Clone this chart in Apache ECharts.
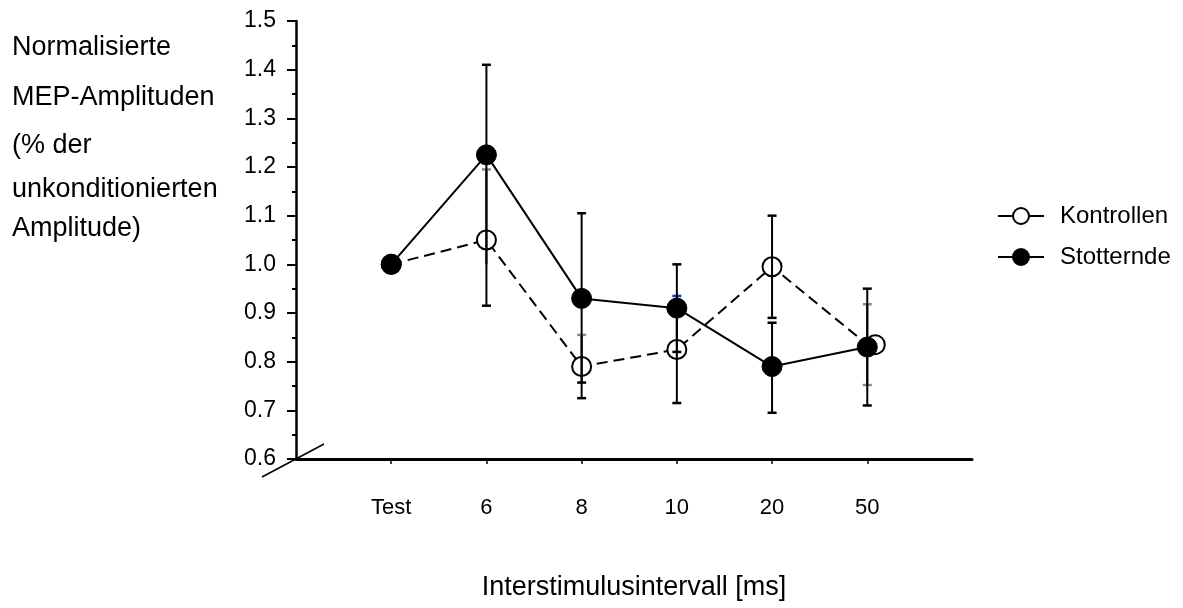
<!DOCTYPE html>
<html>
<head>
<meta charset="utf-8">
<title>Normalisierte MEP-Amplituden</title>
<script src="https://cdn.jsdelivr.net/npm/echarts@6/dist/echarts.min.js"></script>
<style>
  html, body { margin: 0; padding: 0; background: #fff; }
  #chart { width: 1183px; height: 608px; }
</style>
</head>
<body>
<div id="chart"></div>
<script>
// Interstimulus intervals (ms); "Test" is the unconditioned reference stimulus
const categories = ['Test', '6', '8', '10', '20', '50'];

// Mean normalised MEP amplitudes per group
const kontrollen = [1.0, 1.05, 0.79, 0.825, 0.995, 0.835];
const stotternde = [1.0, 1.225, 0.93, 0.91, 0.79, 0.83];

// Error bar ends (lower / upper); no bars at "Test"
const kontrollenLow  = [null, 0.915, 0.725, 0.715, 0.89, 0.752];
const kontrollenHigh = [null, 1.195, 0.855, 0.935, 1.10, 0.918];
const stotterndeLow  = [null, 1.00, 0.757, 0.82, 0.695, 0.71];
const stotterndeHigh = [null, 1.41, 1.105, 1.00, 0.88, 0.95];

// Y axis range and step
const yMin = 0.6, yMax = 1.5, yStep = 0.1;

// Y axis title lines
const yTitleLines = ['Normalisierte', 'MEP-Amplituden', '(% der', 'unkonditionierten', 'Amplitude)'];
const yTitleCentres = [48, 98, 146, 190, 229];
const xTitle = 'Interstimulusintervall [ms]';

const FONT = "'Liberation Sans', Arial, sans-serif";

// cap colours of the error bars: [upper, lower]; null = no cap
const kontrollenCaps = [null, ['#888', '#000'], ['#888', '#000'], ['#2233cc', '#000'], ['#000', '#000'], ['#888', '#888']];
const stotterndeCaps = [null, ['#000', null], ['#000', '#000'], ['#000', '#000'], ['#000', '#000'], ['#000', '#000']];

function pairs(values) {
  return values.map((v, i) => [i + 1, v]);
}
function errorData(low, high, caps) {
  const out = [];
  low.forEach((lo, i) => {
    if (lo == null) return;
    out.push({ value: [i + 1, lo, high[i]], caps: caps[i] });
  });
  return out;
}

function errorSeries(name, low, high, caps, z) {
  const data = errorData(low, high, caps);
  return {
    type: 'custom',
    name: name + ' SE',
    z: z,
    silent: true,
    encode: { x: 0, y: [1, 2] },
    data: data.map(d => d.value),
    renderItem: function (params, api) {
      const x = api.value(0);
      const pLo = api.coord([x, api.value(1)]);
      const pHi = api.coord([x, api.value(2)]);
      const cap = data[params.dataIndex].caps;
      const w = 4.5;
      const children = [{
        type: 'line',
        shape: { x1: pLo[0], y1: pLo[1], x2: pHi[0], y2: pHi[1] },
        style: { stroke: '#000', lineWidth: 2 }
      }];
      if (cap[0]) children.push({
        type: 'line',
        shape: { x1: pHi[0] - w, y1: pHi[1], x2: pHi[0] + w, y2: pHi[1] },
        style: { stroke: cap[0], lineWidth: 2.5 }
      });
      if (cap[1]) children.push({
        type: 'line',
        shape: { x1: pLo[0] - w, y1: pLo[1], x2: pLo[0] + w, y2: pLo[1] },
        style: { stroke: cap[1], lineWidth: 2.5 }
      });
      return { type: 'group', children: children };
    }
  };
}

const chart = echarts.init(document.getElementById('chart'), null, { renderer: 'canvas' });

const option = {
  animation: false,
  backgroundColor: '#fff',
  grid: { left: 296, top: 21, right: 211, bottom: 149, containLabel: false, outerBoundsMode: 'none' },
  xAxis: {
    type: 'value',
    min: 0,
    max: 7.1,
    name: xTitle,
    nameLocation: 'middle',
    nameGap: 115,
    nameTextStyle: { color: '#000', fontSize: 27, fontFamily: FONT },
    axisLine: { show: true, onZero: false, lineStyle: { color: '#000', width: 3 } },
    axisTick: { show: true, customValues: [1, 2, 3, 4, 5, 6], length: 5, lineStyle: { color: '#000', width: 1.5 } },
    axisLabel: {
      customValues: [1, 2, 3, 4, 5, 6],
      formatter: v => categories[Math.round(v) - 1] || '',
      margin: 38,
      color: '#000',
      fontSize: 22,
      fontFamily: FONT
    },
    splitLine: { show: false }
  },
  yAxis: {
    type: 'value',
    min: yMin,
    max: yMax,
    interval: yStep,
    axisLine: { show: true, lineStyle: { color: '#000', width: 2.5 } },
    axisTick: { show: true, length: 9, lineStyle: { color: '#000', width: 2 } },
    minorTick: { show: true, splitNumber: 2, length: 4, lineStyle: { color: '#000', width: 2 } },
    axisLabel: {
      formatter: v => v.toFixed(1),
      margin: 20,
      color: '#000',
      fontSize: 23,
      fontFamily: FONT
    },
    splitLine: { show: false }
  },
  legend: {
    orient: 'vertical',
    left: 992,
    top: 199,
    itemWidth: 46,
    itemHeight: 20,
    itemGap: 17,
    textStyle: { color: '#000', fontSize: 24, fontFamily: FONT, padding: [0, 0, 0, 11] },
    data: [
      { name: 'Kontrollen', lineStyle: { type: 'solid' } },
      { name: 'Stotternde' }
    ]
  },
  series: [
    {
      name: 'Kontrollen',
      type: 'line',
      z: 2,
      data: pairs(kontrollen).map((p, i) => i === kontrollen.length - 1 ? { value: p, symbolOffset: [8, 0] } : p),
      symbol: 'circle',
      symbolSize: 19,
      itemStyle: { color: '#fff', borderColor: '#000', borderWidth: 2 },
      lineStyle: { color: '#000', width: 2, type: [11, 6] },
      emphasis: { disabled: true }
    },
    errorSeries('Kontrollen', kontrollenLow, kontrollenHigh, kontrollenCaps, 3),
    errorSeries('Stotternde', stotterndeLow, stotterndeHigh, stotterndeCaps, 3),
    {
      name: 'Stotternde',
      type: 'line',
      z: 4,
      data: pairs(stotternde),
      symbol: 'circle',
      symbolSize: 20,
      itemStyle: { color: '#000', borderColor: '#000', borderWidth: 1 },
      lineStyle: { color: '#000', width: 2, type: 'solid' },
      emphasis: { disabled: true }
    }
  ]
};

chart.setOption(option);

// Axis-break stroke through the origin and the free-standing y title
const origin = chart.convertToPixel({ gridIndex: 0 }, [0, yMin]);
const graphics = [{
  type: 'line',
  shape: { x1: origin[0] - 34, y1: origin[1] + 18, x2: origin[0] + 28, y2: origin[1] - 15 },
  style: { stroke: '#000', lineWidth: 1.5 }
}];
yTitleLines.forEach((t, i) => {
  graphics.push({
    type: 'text',
    x: 12,
    y: yTitleCentres[i],
    style: { text: t, fill: '#000', font: '27px ' + FONT, verticalAlign: 'middle' }
  });
});
chart.setOption({ graphic: graphics });
</script>
</body>
</html>
